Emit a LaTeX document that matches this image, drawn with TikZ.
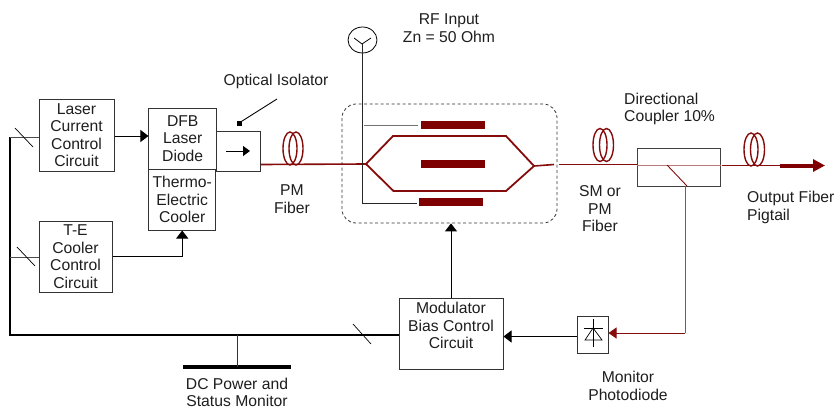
\documentclass[tikz,border=0pt]{standalone}
\usepackage{fontspec}
\setmainfont{Liberation Sans}
\usetikzlibrary{arrows.meta,shapes.geometric}
\definecolor{fib}{HTML}{860C0C}
\definecolor{elec}{HTML}{7F0000}
\definecolor{txt}{HTML}{1E1E1E}
\tikzset{
 x=1pt,y=-1pt,
 every node/.style={font=\fontsize{15.7}{17.5}\selectfont,text=txt,inner sep=0pt},
 box/.style={draw=black!80,line width=1pt,align=center,fill=white},
 lab/.style={align=center},
 wire/.style={line width=1pt,black},
 sig/.style={wire,-{Triangle[length=8pt,width=12pt]}},
 fiber/.style={line width=1.6pt,fib},
 coilring/.style={line width=1.4pt,draw=fib,fill=none,ellipse,minimum width=14pt,minimum height=33pt},
 slash/.style={line width=.7pt,black},
 electrode/.style={fill=elec,draw=none,inner sep=0pt,minimum width=64pt,minimum height=8pt},
}
\begin{document}
\begin{tikzpicture}
\useasboundingbox (0,0) rectangle (837,410);
\coordinate (yA) at (0,136);
\coordinate (yB) at (0,336.5);
\coordinate (yF) at (0,164.5);
\coordinate (yG) at (0,165);
% boxes
\node[box,minimum width=75pt,minimum height=72pt] (laser) at (76.5,135) {Laser\\Current\\Control\\Circuit};
\node[box,minimum width=73pt,minimum height=71pt] (te) at (75.5,256.5) {T-E\\Cooler\\Control\\Circuit};
\node[box,minimum width=67.5pt,minimum height=61pt] (dfb) at (182.7,138.5) {DFB\\Laser\\Diode};
\node[box,minimum width=66.5pt,minimum height=61pt] (tec) at (182.2,199.5) {Thermo-\\Electric\\Cooler};
\node[box,minimum width=43.5pt,minimum height=40pt] (iso) at (238.7,151) {};
\node[box,minimum width=104pt,minimum height=71pt,text depth=16pt] (mod) at (451,333.5) {Modulator\\Bias Control\\Circuit};
\node[box,minimum width=31pt,minimum height=37pt] (pd) at (592.5,334.5) {};
\node[draw=black!80,dash pattern=on 3pt off 2.5pt,line width=.8pt,rounded corners=14pt,minimum width=215pt,minimum height=119pt] (mzbox) at (449.5,163.5) {};
% coupler
\node[draw=black!75,line width=1pt,minimum width=83pt,minimum height=38pt] (coup) at (678.5,167) {};
% antenna
\node[draw=black,line width=.8pt,ellipse,minimum width=29pt,minimum height=26pt] (ant) at (362.5,40) {};
\coordinate (antc) at (362,44);
\draw[line width=.8pt] (antc) -- ++(-8,-6) (antc) -- ++(9,-6);
% bus and signal lines
\coordinate (busL) at (10,335);
\coordinate (busT) at (10,137);
\coordinate (busM) at (10,257);
\coordinate (busP) at (237,335);
\draw[line width=1.4pt] (busT) -- (busL) -- (mod.west|-busL);
\draw[line width=1pt,black!70] (busT) -- (laser.west|-busT);
\draw[line width=1pt,black!70] (busM) -- (te.west|-busM);
\draw[slash] (15,128) -- (33,147);
\draw[slash] (17,247) -- (35,266);
\draw[slash] (353,324) -- (371,344);
\draw[sig] (laser.east|-yA) -- (dfb.west|-yA);
\coordinate (tecdown) at (tec.south|-te.east);
\draw[sig] (te.east) -- (tecdown) -- (tec.south);
% DC power
\coordinate (barL) at (183,367);
\coordinate (barR) at (291,367);
\draw[line width=4pt,black] (barL) -- (barR);
\draw[line width=1pt,black!80] (busP) -- (busP|-barL);
% modulator up and pd
\draw[sig] (mod.north) -- (mzbox.south-|mod.north);
\draw[sig] (pd.west|-yB) -- (mod.east|-yB);
% isolator
\coordinate (isoA) at (226,151);
\coordinate (isoB) at (250,151);
\draw[wire,-{Triangle[length=7pt,width=10pt]}] (isoA) -- (isoB);
\coordinate (isoLead) at (277,99);
\coordinate (isoEnd) at (239,123);
\draw[line width=.9pt,black] (isoLead) -- (isoEnd);
\fill[black] (isoEnd) ++(-2.5,-2.5) rectangle ++(5,5);
% photodiode symbol
\draw[line width=.7pt,black] (593,319) -- (593,347);
\draw[line width=.7pt,black] (584,328) -- (603,328);
\draw[line width=.7pt,black] (593,328) -- (585,340) -- (602,340) -- cycle;
% fibers
\coordinate (mzL) at (366,164);
\coordinate (mzR) at (534,166);
\draw[fiber] (iso.east|-yF) -- (mzL);
\node[coilring] (c1a) at (290,148.5) {};
\node[coilring] (c1b) at (296,148.5) {};
\node[coilring] (c2a) at (600,145) {};
\node[coilring] (c2b) at (606.5,145) {};
\node[coilring] (c3a) at (751,149.5) {};
\node[coilring] (c3b) at (757.5,149.5) {};
% MZ
\draw[line width=1.8pt,fib,line join=miter] (mzL) -- (393,136) -- (506,136) -- (mzR) -- (506,191) -- (393.5,191) -- cycle;
\draw[fiber] (mzR) -- (554,164.5);
\coordinate (fibS) at (559,164.5);
\draw[fiber] (fibS) -- (coup.west|-yF);
\draw[line width=1pt,fib!55!white] (coup.west|-yG) -- (coup.east|-yG);
\coordinate (tapA) at (667,165);
\coordinate (tapB) at (687,186);
\draw[line width=.9pt,fib] (tapA) -- (tapB);
\coordinate (tapC) at (685,333);
\draw[line width=1pt,fib!75!white] (tapB-|tapC) -- (tapC) ;
\draw[line width=1pt,fib,-{Triangle[length=8pt,width=11pt]}] (tapC) -- (pd.east|-tapC);
\coordinate (outA) at (780,165.5);
\coordinate (outB) at (825,165.5);
\coordinate (outS) at (722,165.5);
\draw[fiber] (outS) -- (outA);
\draw[line width=4pt,elec,-{Triangle[length=12pt,width=12pt]}] (outA) -- (outB);
% RF lines
\coordinate (rfB) at (362,203);
\coordinate (rfE) at (417,203);
\coordinate (rfT) at (364,125);
\coordinate (rfU) at (418,125);
\draw[line width=1pt,black!85] (antc) -- (rfB) -- (rfE);
\draw[line width=.9pt,black!55] (rfT) -- (rfU);
\node[electrode] (e1) at (453,125) {};
\node[electrode] (e2) at (453,163.5) {};
\node[electrode] (e3) at (451,202) {};
% labels
\node[lab] (l1) at (449,28) {RF Input\\Zn = 50 Ohm};
\node[lab] (l2) at (276,81) {Optical Isolator};
\node[lab] (l3) at (292,199) {PM\\Fiber};
\node[lab,align=left,anchor=west] (l4) at (624,109) {Directional\\Coupler 10\%};
\node[lab] (l5) at (600,209) {SM or\\PM\\Fiber};
\node[lab,align=left,anchor=west] (l6) at (747,207.5) {Output Fiber\\Pigtail};
\node[lab] (l7) at (628,386) {Monitor\\Photodiode};
\node[lab] (l8) at (237,392.5) {DC Power and\\Status Monitor};
\end{tikzpicture}
\end{document}
